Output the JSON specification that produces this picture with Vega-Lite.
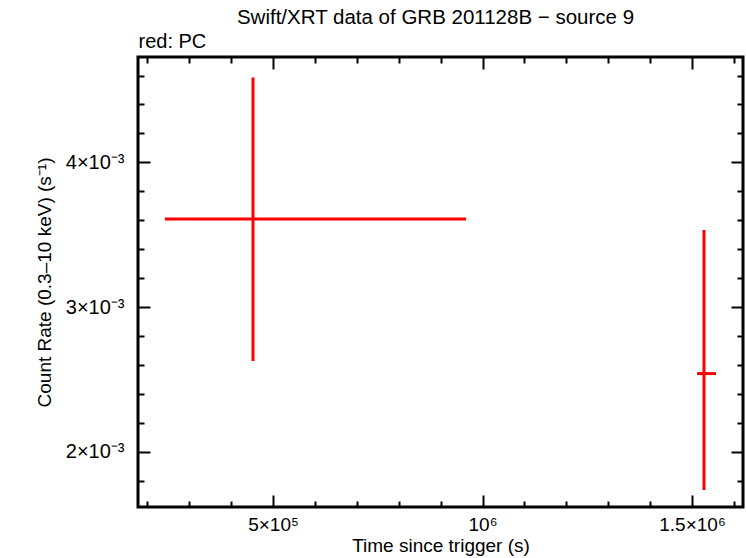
{
  "$schema": "https://vega.github.io/schema/vega-lite/v6.json",
  "width": 605,
  "height": 450,
  "autosize": {"type": "none"},
  "padding": {"left": 138, "top": 57, "right": 3, "bottom": 51},
  "background": "white",
  "title": {
    "text": "Swift/XRT data of GRB 201128B − source 9",
    "anchor": "middle",
    "frame": "group",
    "font": "Liberation Sans",
    "fontSize": 20.5,
    "fontWeight": "normal",
    "color": "black",
    "offset": 3,
    "dx": -5
  },
  "config": {
    "view": {"stroke": "black", "strokeWidth": 3},
    "axis": {
      "domain": false,
      "grid": false,
      "tickColor": "black",
      "tickWidth": 2,
      "labelFont": "Liberation Sans",
      "labelFontSize": 19,
      "labelColor": "black",
      "titleFont": "Liberation Sans",
      "titleFontSize": 19,
      "titleFontWeight": "normal",
      "titleColor": "black"
    }
  },
  "data": {
    "values": [
      {"t": 452300, "tlo": 242000, "thi": 960600, "rate": 0.003608, "rlo": 0.002627, "rhi": 0.004587},
      {"t": 1528600, "tlo": 1511900, "thi": 1557300, "rate": 0.00254, "rlo": 0.001735, "rhi": 0.003532}
    ]
  },
  "layer": [
    {
      "mark": {"type": "rule", "color": "red", "strokeWidth": 3},
      "encoding": {
        "x": {
          "field": "t",
          "type": "quantitative",
          "scale": {"domain": [177800, 1621700], "nice": false, "zero": false},
          "axis": {
            "orient": "bottom",
            "values": [200000, 300000, 400000, 500000, 600000, 700000, 800000, 900000, 1000000, 1100000, 1200000, 1300000, 1400000, 1500000, 1600000],
            "labelExpr": "datum.value == 500000 ? '5×10⁵' : datum.value == 1000000 ? '10⁶' : datum.value == 1500000 ? '1.5×10⁶' : ''",
            "tickSize": {"condition": {"test": "datum.value % 500000 == 0", "value": -12}, "value": -6},
            "labelFont": "Liberation Sans",
            "labelFontSize": 19,
            "labelPadding": 20,
            "title": "Time since trigger (s)",
            "titleFontSize": 19,
            "titlePadding": 2
          }
        },
        "y": {
          "field": "rlo",
          "type": "quantitative",
          "scale": {"domain": [0.001618, 0.004728], "nice": false, "zero": false},
          "axis": {
            "orient": "left",
            "values": [0.0018, 0.002, 0.0022, 0.0024, 0.0026, 0.0028, 0.003, 0.0032, 0.0034, 0.0036, 0.0038, 0.004, 0.0042, 0.0044, 0.0046],
            "labelExpr": "round(datum.value * 10000) == 20 ? '2×10⁻³' : round(datum.value * 10000) == 30 ? '3×10⁻³' : round(datum.value * 10000) == 40 ? '4×10⁻³' : ''",
            "tickSize": {"condition": {"test": "round(datum.value * 10000) % 10 == 0", "value": -12}, "value": -6},
            "labelFont": "Liberation Sans",
            "labelFontSize": 20,
            "labelPadding": 26,
            "title": "Count Rate (0.3–10 keV) (s⁻¹)",
            "titleFontSize": 19,
            "titlePadding": 11
          }
        },
        "y2": {"field": "rhi"}
      }
    },
    {
      "mark": {"type": "rule", "color": "red", "strokeWidth": 3},
      "encoding": {
        "x": {
          "field": "tlo",
          "type": "quantitative",
          "axis": {
            "orient": "top",
            "values": [200000, 300000, 400000, 500000, 600000, 700000, 800000, 900000, 1000000, 1100000, 1200000, 1300000, 1400000, 1500000, 1600000],
            "labels": false,
            "tickSize": {"condition": {"test": "datum.value % 500000 == 0", "value": -12}, "value": -6},
            "title": "red: PC",
            "titleFontSize": 20,
            "titleAnchor": "start",
            "titleAlign": "left",
            "titleBaseline": "alphabetic",
            "titleX": 0,
            "titleY": -10
          }
        },
        "x2": {"field": "thi"},
        "y": {
          "field": "rate",
          "type": "quantitative",
          "axis": {
            "orient": "right",
            "values": [0.0018, 0.002, 0.0022, 0.0024, 0.0026, 0.0028, 0.003, 0.0032, 0.0034, 0.0036, 0.0038, 0.004, 0.0042, 0.0044, 0.0046],
            "labels": false,
            "tickSize": {"condition": {"test": "round(datum.value * 10000) % 10 == 0", "value": -12}, "value": -6},
            "title": null
          }
        }
      }
    }
  ],
  "resolve": {"axis": {"x": "independent", "y": "independent"}}
}
